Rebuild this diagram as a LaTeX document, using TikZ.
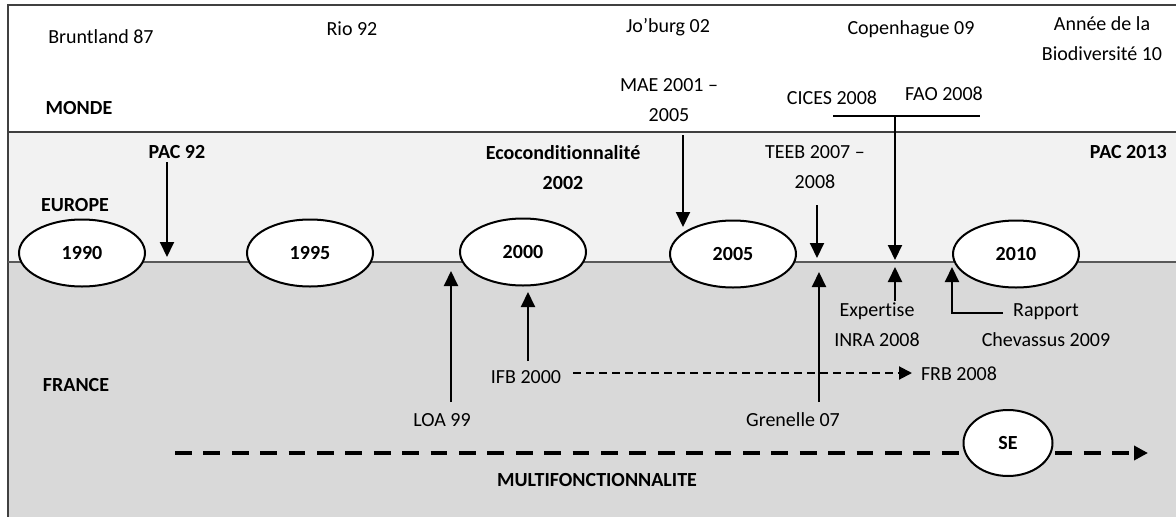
\documentclass[tikz,border=0pt]{standalone}
\usepackage{fontspec}
\setmainfont{Carlito}[Ligatures=NoCommon]
\usetikzlibrary{arrows.meta,shapes.geometric}
\definecolor{bandlight}{HTML}{F2F2F2}
\definecolor{banddark}{HTML}{D9D9D9}
\definecolor{rulegray}{HTML}{595959}
\definecolor{framegray}{HTML}{404040}
\begin{document}
\begin{tikzpicture}[x=1pt,y=-1pt,
  every node/.style={font=\fontsize{20}{30}\selectfont},
  lbl/.style={inner sep=0pt, anchor=base, align=center},
  bold/.style={lbl, font=\fontsize{20}{30}\selectfont\bfseries},
  year/.style={ellipse, draw, line width=2pt, fill=white, inner sep=0pt,
    minimum width=126pt, minimum height=67pt,
    font=\fontsize{20}{30}\selectfont\bfseries},
  link/.style={line width=2pt, -{Triangle[width=14pt,length=15pt]}},
  thinlink/.style={line width=2pt, dash pattern=on 8pt off 5pt,
    -{Triangle[width=13pt,length=13pt]}},
  trend/.style={line width=4pt, dash pattern=on 16.7pt off 11.7pt,
    -{Triangle[width=14pt,length=14pt]}},
]
\useasboundingbox (0,0) rectangle (1176,517);

% bands: world, Europe, France
\fill[white] (0,0) rectangle (1176,517);
\fill[bandlight] (8,132) rectangle (1176,262);
\fill[banddark] (8,262) rectangle (1176,517);
\draw[line width=1.5pt, framegray] (8,517) -- (8,5) -- (1176,5);
\draw[line width=1.5pt, framegray] (8,132) -- (1176,132);
\draw[line width=2.5pt, rulegray] (8,262) -- (1176,262);

% world events (two-line labels sit on their last baseline)
\node[lbl] (brunt) at (101,43.5) {Bruntland 87};
\node[lbl] (rio) at (352,35.5) {Rio 92};
\node[lbl] (joburg) at (668,32.5) {Jo’burg 02};
\node[lbl] (copen) at (911,34) {Copenhague 09};
\node[lbl] (annee) at (1102,60.5) {Année de la\\Biodiversité 10};
\node[bold] (monde) at (79,114.5) {MONDE};
\node[lbl] (mae) at (669,121.5) {MAE 2001 –\\2005};
\node[lbl] (cices) at (832,104.5) {CICES 2008};
\node[lbl] (fao) at (944,100.5) {FAO 2008};

% European events
\node[bold] (pac92) at (177,158.5) {PAC 92};
\node[bold] (ecocond) at (563,189.5) {Ecoconditionnalité\\2002};
\node[lbl] (teeb) at (815,188.5) {TEEB 2007 –\\2008};
\node[bold, anchor=base east] (pac2013) at (1167,158.5) {PAC 2013};
\node[bold] (europe) at (75,211.5) {EUROPE};

% French events
\node[lbl] (expertise) at (877,346.5) {Expertise\\INRA 2008};
\node[lbl] (rapport) at (1046,346.5) {Rapport\\Chevassus 2009};
\node[bold] (france) at (76,391.5) {FRANCE};
\node[lbl] (ifb) at (526,383.5) {IFB 2000};
\node[lbl] (frb) at (959,380) {FRB 2008};
\node[lbl] (loa) at (442,426.5) {LOA 99};
\node[lbl] (grenelle) at (793,426.5) {Grenelle 07};
\node[bold] (multi) at (597,486.5) {MULTIFONCTIONNALITE};

% connector end points
\coordinate (pacTop) at (167,162);   \coordinate (pacTip) at (167,257);
\coordinate (maeTop) at (683,135);   \coordinate (maeTip) at (683,227);
\coordinate (teebTop) at (817,205);  \coordinate (teebTip) at (817,258);
\coordinate (barL) at (833,116);     \coordinate (barR) at (980,116);
\coordinate (barMid) at (895,116);   \coordinate (barTip) at (895,260);
\coordinate (expBot) at (895,301);   \coordinate (expTip) at (895,267);
\coordinate (greBot) at (819,402);   \coordinate (greTip) at (819,272);
\coordinate (rapEnd) at (1003,313);  \coordinate (rapCorner) at (952,313);
\coordinate (rapTip) at (952,267);
\coordinate (loaBot) at (451,402);   \coordinate (loaTip) at (451,271);
\coordinate (ifbTop) at (528,361);   \coordinate (ifbTip) at (528,292);
\coordinate (ifbRight) at (573,373); \coordinate (frbTip) at (912,373);
\coordinate (trendStart) at (175,453); \coordinate (trendTip) at (1148,453);

% dashed trend lines
\draw[trend] (trendStart) -- (trendTip);
\draw[thinlink] (ifbRight) -- (frbTip);

% timeline years
\node[year] (y1990) at (82,253) {1990};
\node[year] (y1995) at (310,253) {1995};
\node[year] (y2000) at (523,252) {2000};
\node[year] (y2005) at (733,254) {2005};
\node[year] (y2010) at (1016,254) {2010};
\node[year, minimum width=89pt, minimum height=66pt] (se) at (1008,443) {SE};

% event arrows
\draw[link] (pacTop) -- (pacTip);
\draw[link] (maeTop) -- (maeTip);
\draw[link] (teebTop) -- (teebTip);
\draw[line width=1.5pt] (barL) -- (barR);
\draw[link] (barMid) -- (barTip);
\draw[link] (expBot) -- (expTip);
\draw[link] (greBot) -- (greTip);
\draw[link] (rapEnd) -- (rapCorner) -- (rapTip);
\draw[link] (loaBot) -- (loaTip);
\draw[link] (ifbTop) -- (ifbTip);
\end{tikzpicture}
\end{document}
